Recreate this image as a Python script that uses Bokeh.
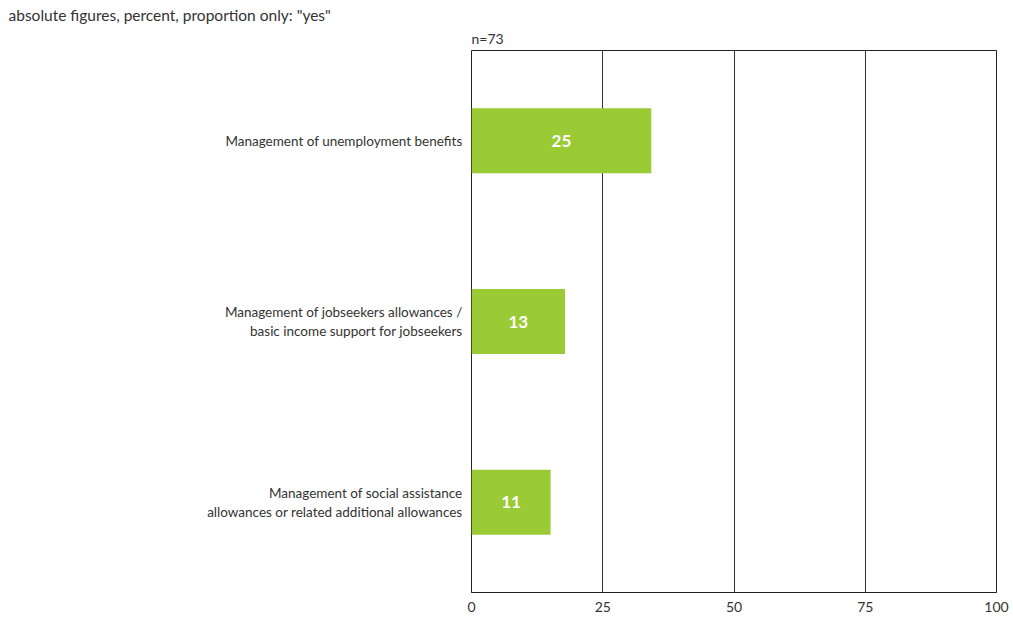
from bokeh.plotting import figure
from bokeh.models import Range1d, FixedTicker, Title, ColumnDataSource
from bokeh.core.properties import value
from bokeh.embed import file_html
from bokeh.resources import INLINE

# Survey answers ("yes") per task, absolute counts out of n respondents
categories = [
    "Management of unemployment benefits",
    "Management of jobseekers allowances /\nbasic income support for jobseekers",
    "Management of social assistance\nallowances or related additional allowances",
]
counts = [25, 13, 11]
n_total = 73
x_ticks = [0, 25, 50, 75, 100]

# Bars are drawn in percent, labelled with the absolute count
percent = [c / n_total * 100 for c in counts]
ypos = [i + 0.5 for i in range(len(categories))]

FONT = "Lato"
BAR = "#9BCB34"
TXT = "#333333"

p = figure(
    width=1013, height=623,
    x_range=Range1d(0, 100), y_range=Range1d(3, 0),
    output_backend="svg", toolbar_location=None,
    min_border_left=471, min_border_right=17,
    min_border_top=50, min_border_bottom=31,
)
p.background_fill_color = "white"
p.border_fill_color = "white"
p.outline_line_color = "#222222"
p.outline_line_width = 1

src = ColumnDataSource(dict(y=ypos, right=percent, mid=[v / 2 for v in percent],
                            label=[str(c) for c in counts]))
p.hbar(y="y", left=0, right="right", height=0.36, source=src,
       fill_color=BAR, line_color=None)
p.text(x="mid", y="y", text="label", source=src,
       text_color="white", text_font=value(FONT), text_font_style="bold",
       text_font_size="17px", text_align="center", text_baseline="middle")

# vertical grid only
p.ygrid.visible = False
p.xgrid.ticker = FixedTicker(ticks=[25, 50, 75])
p.xgrid.grid_line_color = "#333333"
p.xgrid.grid_line_width = 1

p.xaxis.ticker = FixedTicker(ticks=x_ticks)
p.xaxis.axis_line_color = "#222222"
p.xaxis.major_tick_in = 0
p.xaxis.major_tick_out = 0
p.xaxis.minor_tick_line_color = None
p.xaxis.major_label_text_font = FONT
p.xaxis.major_label_text_font_size = "14px"
p.xaxis.major_label_text_color = TXT
p.xaxis.major_label_standoff = 9

p.yaxis.ticker = FixedTicker(ticks=ypos)
p.yaxis.major_label_overrides = {y: c for y, c in zip(ypos, categories)}
p.yaxis.axis_line_color = None
p.yaxis.major_tick_line_color = None
p.yaxis.minor_tick_line_color = None
p.yaxis.major_label_text_font = FONT
p.yaxis.major_label_text_font_size = "13.5px"
p.yaxis.major_label_text_color = TXT
p.yaxis.major_label_standoff = 3

# headings above the frame
p.title.text = 'absolute figures, percent, proportion only: "yes"'
p.title.align = "left"
p.title.offset = -463
p.title.text_font = FONT
p.title.text_font_size = "15.5px"
p.title.text_font_style = "normal"
p.title.text_color = TXT
p.title.standoff = 0

p.add_layout(Title(text=f"n={n_total}", align="left", text_font=FONT,
                   text_font_size="14px", text_font_style="normal",
                   text_color=TXT, standoff=8), "above")

open("out.html", "w").write(file_html(p, INLINE))
